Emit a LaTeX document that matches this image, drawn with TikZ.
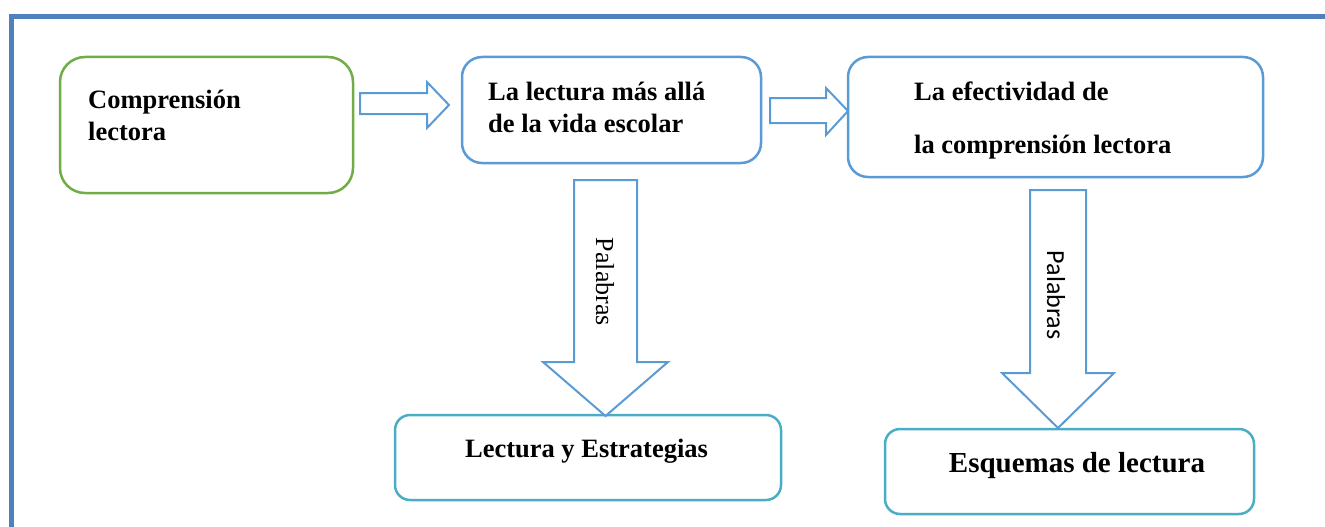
\documentclass[tikz,border=0pt]{standalone}
\usepackage{fontspec}
\setmainfont{Liberation Serif}
\newfontfamily\calfont{Carlito}
\definecolor{frameblue}{HTML}{4F81BD}
\definecolor{boxblue}{HTML}{5B9BD5}
\definecolor{boxgreen}{HTML}{70AD47}
\definecolor{boxteal}{HTML}{4BACC6}
\tikzset{
  box/.style={draw, line width=2.5pt, rounded corners=20pt, inner sep=0pt},
  lbl/.style={anchor=base west, inner sep=0pt, font=\fontsize{26.5}{30}\selectfont\bfseries},
  clbl/.style={anchor=base, inner sep=0pt, font=\fontsize{26.5}{30}\selectfont\bfseries},
  blockarrow/.style={draw=boxblue, line width=2pt, fill=white, line join=miter},
}
\begin{document}
\begin{tikzpicture}[x=1pt,y=-1pt]
\useasboundingbox (0,0) rectangle (1325,527);
% frame
\draw[frameblue, line width=5pt] (11.5,540) -- (11.5,17) -- (1340,17);
% boxes
\node[box, draw=boxgreen, rounded corners=25pt, minimum width=293pt, minimum height=136pt] (b1) at (206.5,125) {};
\node[box, draw=boxblue, minimum width=299pt, minimum height=106pt] (b2) at (611.5,110) {};
\node[box, draw=boxblue, minimum width=415pt, minimum height=120pt] (b3) at (1055.5,117) {};
\node[box, draw=boxteal, rounded corners=15pt, minimum width=386pt, minimum height=85pt] (b4) at (588,457.5) {};
\node[box, draw=boxteal, rounded corners=15pt, minimum width=369pt, minimum height=85pt] (b5) at (1069.5,471.5) {};
% texts
\node[lbl] (t1a) at (88,108) {Comprensión};
\node[lbl] (t1b) at (88,140) {lectora};
\node[lbl] (t2a) at (488,100) {La lectura más allá};
\node[lbl] (t2b) at (488,132) {de la vida escolar};
\node[lbl] (t3a) at (914,100) {La efectividad de};
\node[lbl] (t3b) at (914,153) {la comprensión lectora};
\node[clbl] (t4) at (586.5,457) {Lectura y Estrategias};
\node[clbl, font=\fontsize{29}{32}\selectfont\bfseries] (t5) at (1077,472) {Esquemas de lectura};
% right block arrows
\draw[blockarrow] (360,93) -- (427,93) -- (427,82) -- (449,105) -- (427,128) -- (427,114) -- (360,114) -- cycle;
\draw[blockarrow] (770,98) -- (826,98) -- (826,88) -- (848,111) -- (826,135) -- (826,123) -- (770,123) -- cycle;
% down block arrows
\draw[blockarrow] (574,180) -- (637,180) -- (637,362) -- (668,362) -- (605.5,416) -- (543,362) -- (574,362) -- cycle;
\draw[blockarrow] (1030,190) -- (1086,190) -- (1086,373) -- (1114,373) -- (1058,428) -- (1002,373) -- (1030,373) -- cycle;
\node[rotate=-90, inner sep=0pt, font=\fontsize{26}{30}\selectfont] (p1) at (605,282) {Palabras};
\node[rotate=-90, inner sep=0pt, font=\calfont\fontsize{26}{30}\selectfont] (p2) at (1056,295) {Palabras};
\end{tikzpicture}
\end{document}
